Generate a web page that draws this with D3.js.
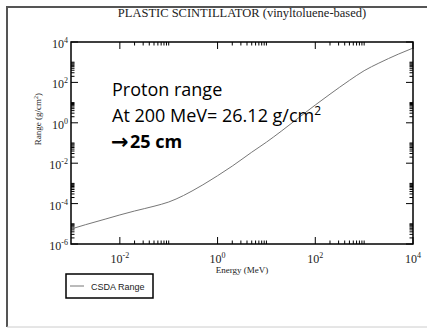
<!DOCTYPE html>
<html>
<head>
<meta charset="utf-8">
<script src="https://cdn.jsdelivr.net/npm/d3@7"></script>
<style>
  body { margin: 0; background: #fff; }
  svg { display: block; }
</style>
</head>
<body>
<div id="chart"></div>
<script>
// Values (energy in MeV, CSDA range in g/cm2)
const energy = [0.001, 0.002, 0.005, 0.01, 0.02, 0.05, 0.1, 0.2, 0.3, 0.5, 0.7, 1, 2, 5, 10, 20, 50, 100, 200, 500, 1000, 2000, 5000, 10000];
const csdaRange = [5.5e-6, 9.1e-6, 1.7e-5, 2.75e-5, 4.3e-5, 7.4e-5, 1.2e-4, 2.5e-4, 4.2e-4, 8.5e-4, 1.4e-3, 2.4e-3, 7.2e-3, 3.5e-2, 0.11, 0.38, 2.1, 7.6, 26.12, 126, 380, 900, 2500, 5000];
const xMajor = [1e-2, 1, 1e2, 1e4];
const yMajor = [1e-6, 1e-4, 1e-2, 1, 1e2, 1e4];
const title = "PLASTIC SCINTILLATOR (vinyltoluene-based)";
const note = ["Proton range", "At 200 MeV= 26.12 g/cm", "\u2192", "25 cm"];

const width = 427, height = 328;
const plot = {left: 71, right: 413, top: 42, bottom: 244};

const svg = d3.select("#chart").append("svg")
  .attr("width", width)
  .attr("height", height);

// outer slide frame
svg.append("line").attr("x1", 7).attr("x2", width).attr("y1", 7).attr("y2", 7)
  .attr("stroke", "#555").attr("stroke-width", 2);
svg.append("line").attr("x1", 7).attr("x2", 7).attr("y1", 6).attr("y2", 327)
  .attr("stroke", "#555").attr("stroke-width", 2);
svg.append("line").attr("x1", 7).attr("x2", width).attr("y1", 327).attr("y2", 327)
  .attr("stroke", "#ccc").attr("stroke-width", 1);

const x = d3.scaleLog().domain([1e-3, 1e4]).range([plot.left, plot.right]);
const y = d3.scaleLog().domain([1e-6, 1e4]).range([plot.bottom, plot.top]);

// minor ticks: k * 10^(2n), k = 2..10
function minors(lo, hi) {
  const out = [];
  for (let e = Math.log10(lo); e < Math.log10(hi); e += 2) {
    for (let k = 2; k <= 10; k++) out.push(k * Math.pow(10, e));
  }
  return out;
}
const xMinor = minors(1e-2, 1e4);
const yMinor = minors(1e-6, 1e4);

const ticks = svg.append("g").attr("stroke", "#000").attr("stroke-width", 1);
xMajor.forEach(v => {
  ticks.append("line").attr("x1", x(v)).attr("x2", x(v)).attr("y1", plot.bottom).attr("y2", plot.bottom - 7);
  ticks.append("line").attr("x1", x(v)).attr("x2", x(v)).attr("y1", plot.top).attr("y2", plot.top + 7);
});
xMinor.forEach(v => {
  ticks.append("line").attr("x1", x(v)).attr("x2", x(v)).attr("y1", plot.bottom).attr("y2", plot.bottom - 3.5);
  ticks.append("line").attr("x1", x(v)).attr("x2", x(v)).attr("y1", plot.top).attr("y2", plot.top + 3.5);
});
yMajor.forEach(v => {
  ticks.append("line").attr("y1", y(v)).attr("y2", y(v)).attr("x1", plot.left).attr("x2", plot.left + 7);
  ticks.append("line").attr("y1", y(v)).attr("y2", y(v)).attr("x1", plot.right).attr("x2", plot.right - 7);
});
yMinor.forEach(v => {
  ticks.append("line").attr("y1", y(v)).attr("y2", y(v)).attr("x1", plot.left).attr("x2", plot.left + 3.5);
  ticks.append("line").attr("y1", y(v)).attr("y2", y(v)).attr("x1", plot.right).attr("x2", plot.right - 3.5);
});

// curve
const line = d3.line()
  .x((d, i) => x(energy[i]))
  .y(d => y(d))
  .curve(d3.curveMonotoneX);
svg.append("path")
  .datum(csdaRange)
  .attr("d", line)
  .attr("fill", "none")
  .attr("stroke", "#777")
  .attr("stroke-width", 1);

// plot frame
svg.append("rect")
  .attr("x", plot.left).attr("y", plot.top)
  .attr("width", plot.right - plot.left).attr("height", plot.bottom - plot.top)
  .attr("fill", "none").attr("stroke", "#000").attr("stroke-width", 1.5);

// tick labels: 10 with superscript exponent
function powLabel(g, v) {
  const e = Math.round(Math.log10(v));
  g.append("tspan").text("10");
  g.append("tspan").attr("dy", -5).attr("font-size", 8).text(e);
}
const font = "'Liberation Serif', 'Times New Roman', serif";

xMajor.forEach(v => {
  const t = svg.append("text")
    .attr("x", x(v)).attr("y", 263)
    .attr("text-anchor", "middle")
    .attr("font-family", font).attr("font-size", 12).attr("fill", "#222");
  powLabel(t, v);
});
yMajor.forEach(v => {
  const t = svg.append("text")
    .attr("x", 68).attr("y", y(v) + 6)
    .attr("text-anchor", "end")
    .attr("font-family", font).attr("font-size", 12).attr("fill", "#222");
  powLabel(t, v);
});

// axis titles
svg.append("text")
  .attr("x", (plot.left + plot.right) / 2).attr("y", 273)
  .attr("text-anchor", "middle")
  .attr("font-family", font).attr("font-size", 9).attr("fill", "#222")
  .text("Energy (MeV)");

const yt = svg.append("text")
  .attr("transform", "translate(41,119) rotate(-90)")
  .attr("text-anchor", "middle")
  .attr("font-family", font).attr("font-size", 9).attr("fill", "#222");
yt.append("tspan").text("Range (g/cm");
yt.append("tspan").attr("dy", -3).attr("font-size", 6).text("2");
yt.append("tspan").attr("dy", 3).text(")");

// title
svg.append("text")
  .attr("x", 242).attr("y", 17)
  .attr("text-anchor", "middle")
  .attr("font-family", font).attr("font-size", 12.5).attr("fill", "#222")
  .text(title);

// legend
svg.append("rect")
  .attr("x", 66).attr("y", 274).attr("width", 87).attr("height", 24)
  .attr("fill", "#fff").attr("stroke", "#000").attr("stroke-width", 1.5);
svg.append("line")
  .attr("x1", 70).attr("x2", 84).attr("y1", 286).attr("y2", 286)
  .attr("stroke", "#777").attr("stroke-width", 1);
svg.append("text")
  .attr("x", 91).attr("y", 289.5)
  .attr("font-family", "'Liberation Sans', Arial, sans-serif").attr("font-size", 9).attr("fill", "#222")
  .text("CSDA Range");

// annotation
const noteFont = "'Open Sans', 'Noto Sans', sans-serif";
svg.append("text")
  .attr("x", 112).attr("y", 96)
  .attr("font-family", noteFont).attr("font-size", 18).attr("fill", "#000")
  .text(note[0]);
const n2 = svg.append("text")
  .attr("x", 112).attr("y", 122)
  .attr("font-family", noteFont).attr("font-size", 18).attr("fill", "#000");
n2.append("tspan").text(note[1]);
n2.append("tspan").attr("dy", -7).attr("font-size", 12).text("2");
svg.append("text")
  .attr("x", 111).attr("y", 148.5)
  .attr("font-family", "'DejaVu Sans', sans-serif").attr("font-size", 21).attr("font-weight", "bold").attr("fill", "#000")
  .text(note[2]);
svg.append("text")
  .attr("x", 130).attr("y", 148)
  .attr("font-family", noteFont).attr("font-size", 18).attr("font-weight", "bold").attr("fill", "#000")
  .text(note[3]);
</script>
</body>
</html>
